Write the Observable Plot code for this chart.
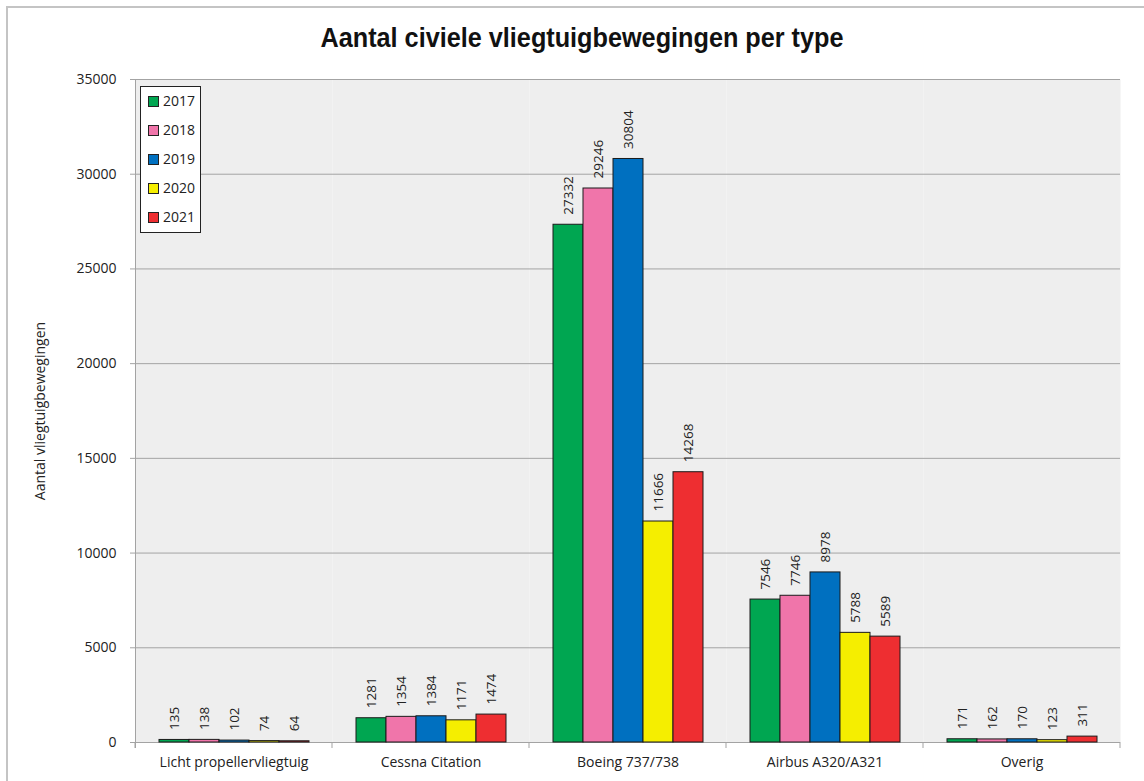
<!DOCTYPE html>
<html>
<head>
<meta charset="utf-8">
<script src="https://cdn.jsdelivr.net/npm/d3@7"></script>
<script src="https://cdn.jsdelivr.net/npm/@observablehq/plot@0.6"></script>
<style>
  html, body { margin: 0; padding: 0; background: #fff; }
  #wrap { position: relative; width: 1144px; height: 781px; overflow: hidden; font-family: "Open Sans", sans-serif; color: #222; }
  #border { position: absolute; left: 6px; top: 6px; width: 1300px; height: 1000px; border: 2px solid #c4c4c4; box-sizing: border-box; }
  #chart { position: absolute; left: 0; top: 0; }
  #title { position: absolute; left: 582px; top: 24px; white-space: nowrap; transform-origin: 0 0;
           font-family: "Liberation Sans", Arial, sans-serif; font-weight: bold; font-size: 28px; line-height: 28px; color: #111; }
  #legend { position: absolute; left: 140px; top: 86px; width: 61px; height: 147px; box-sizing: border-box; border: 1px solid #222; background: #fff; }
  .item { position: absolute; left: 7px; height: 18px; display: flex; align-items: center; font-size: 14px; line-height: 18px; }
  .sw { width: 9px; height: 9px; border: 1px solid #222; box-sizing: content-box; margin-right: 4px; }
</style>
</head>
<body>
<div id="wrap">
  <div id="border"></div>
  <div id="chart"></div>
  <div id="title">Aantal civiele vliegtuigbewegingen per type</div>
  <div id="legend"></div>
</div>
<script>
const categories = ["Licht propellervliegtuig", "Cessna Citation", "Boeing 737/738", "Airbus A320/A321", "Overig"];
const years = ["2017", "2018", "2019", "2020", "2021"];
const values2017 = [135, 1281, 27332, 7546, 171];
const values2018 = [138, 1354, 29246, 7746, 162];
const values2019 = [102, 1384, 30804, 8978, 170];
const values2020 = [74, 1171, 11666, 5788, 123];
const values2021 = [64, 1474, 14268, 5589, 311];
const yTicks = [0, 5000, 10000, 15000, 20000, 25000, 30000, 35000];
const colors = ["#00a651", "#f075aa", "#0070c0", "#f5ee00", "#ee2e31"];
const yLabel = "Aantal vliegtuigbewegingen";

const series = [values2017, values2018, values2019, values2020, values2021];
const data = categories.flatMap((c, i) => years.map((y, j) => ({category: c, year: y, value: series[j][i]})));

const plot = Plot.plot({
  width: 1144,
  height: 781,
  marginLeft: 133,
  marginRight: 22,
  marginTop: 79,
  marginBottom: 39,
  style: {fontFamily: "'Open Sans', sans-serif", fontSize: "14px", color: "#222", background: "transparent"},
  fx: {domain: categories, padding: 0, label: null, axis: null},
  x: {domain: years, paddingInner: 0, paddingOuter: 0.7, axis: null},
  y: {domain: [0, 35000], axis: null},
  color: {domain: years, range: colors},
  marks: [
    Plot.frame({fill: "#eeeeee", stroke: null}),
    Plot.ruleY(yTicks, {stroke: "#a3a3a3", strokeWidth: 1}),
    Plot.barY(data, {fx: "category", x: "year", y: "value", fill: "year", stroke: "#1a1a1a", strokeWidth: 1}),
    Plot.text(data, {fx: "category", x: "year", y: "value", text: d => String(d.value), rotate: -90, textAnchor: "start", dy: -10, fontSize: 13.5, fill: "#222"}),
    Plot.axisY(yTicks, {anchor: "left", tickSize: 5, tickPadding: 14, stroke: "#a3a3a3", fill: "#222", tickFormat: d => String(d),
      label: yLabel, labelAnchor: "center", labelArrow: "none", labelOffset: 100}),
    Plot.axisFx({anchor: "bottom", tickSize: 0, tickPadding: 15, label: null, fill: "#222"})
  ]
});

// axis line and category boundary ticks, positioned by the fx / y scales
const fx = plot.scale("fx");
const ys = plot.scale("y");
const svg = d3.select(plot);
const g = svg.append("g").attr("stroke", "#a3a3a3").attr("stroke-width", 1);
const y0 = ys.apply(0), yTop = ys.apply(35000);
const bounds = categories.map(c => fx.apply(c)).concat([fx.apply(categories[categories.length - 1]) + fx.bandwidth]);
g.append("line").attr("x1", bounds[0] + 0.5).attr("x2", bounds[0] + 0.5).attr("y1", yTop).attr("y2", y0 + 6);
bounds.forEach(b => {
  g.append("line").attr("x1", b).attr("x2", b).attr("y1", y0).attr("y2", y0 + 6);
});
document.getElementById("chart").appendChild(plot);

// title: compress horizontally to the reference's narrow bold face
const title = document.getElementById("title");
const tw = title.getBoundingClientRect().width;
const target = 523;
const sx = target / tw;
title.style.transform = `translateX(${-target / 2}px) scaleX(${sx})`;

// legend
const legend = document.getElementById("legend");
years.forEach((y, i) => {
  const it = document.createElement("div");
  it.className = "item";
  it.style.top = (5 + i * 29.1) + "px";
  const sw = document.createElement("div");
  sw.className = "sw";
  sw.style.background = colors[i];
  const t = document.createElement("span");
  t.textContent = y;
  it.appendChild(sw); it.appendChild(t);
  legend.appendChild(it);
});
</script>
</body>
</html>
